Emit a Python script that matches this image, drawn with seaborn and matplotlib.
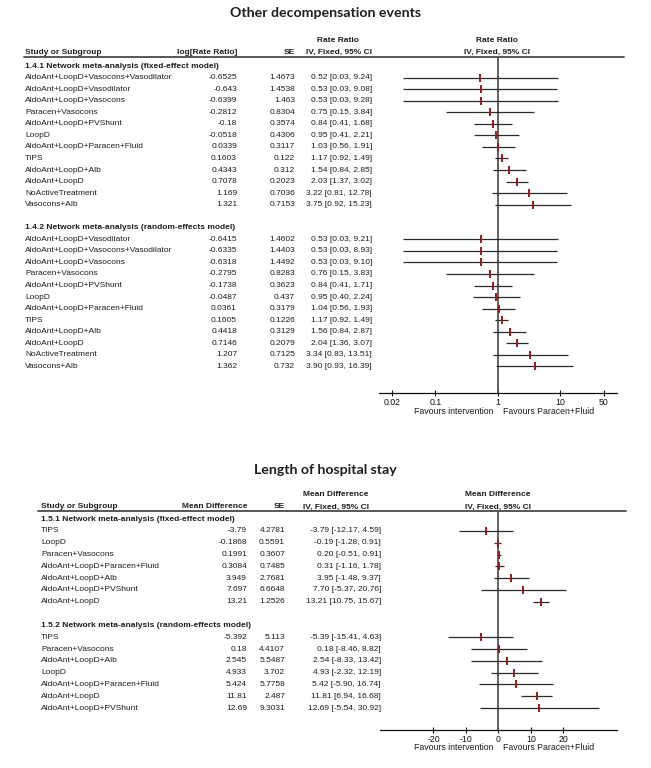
import numpy as np
import pandas as pd
import matplotlib
matplotlib.use("Agg")
import matplotlib.pyplot as plt
import seaborn as sns
from matplotlib.transforms import blended_transform_factory
from matplotlib.lines import Line2D
from matplotlib.ticker import NullLocator

# ------------------------------------------------------------------ data
# Panel 1: Other decompensation events (Rate Ratio)
rr_fixed_labels = ["AldoAnt+LoopD+Vasocons+Vasodilator", "AldoAnt+LoopD+Vasodilator",
                   "AldoAnt+LoopD+Vasocons", "Paracen+Vasocons", "AldoAnt+LoopD+PVShunt",
                   "LoopD", "AldoAnt+LoopD+Paracen+Fluid", "TIPS", "AldoAnt+LoopD+Alb",
                   "AldoAnt+LoopD", "NoActiveTreatment", "Vasocons+Alb"]
rr_fixed_log = [-0.6525, -0.643, -0.6399, -0.2812, -0.18, -0.0518, 0.0339, 0.1603,
                0.4343, 0.7078, 1.169, 1.321]
rr_fixed_se = [1.4673, 1.4538, 1.463, 0.8304, 0.3574, 0.4306, 0.3117, 0.122, 0.312,
               0.2023, 0.7036, 0.7153]
rr_fixed_est = [0.52, 0.53, 0.53, 0.75, 0.84, 0.95, 1.03, 1.17, 1.54, 2.03, 3.22, 3.75]
rr_fixed_lo = [0.03, 0.03, 0.03, 0.15, 0.41, 0.41, 0.56, 0.92, 0.84, 1.37, 0.81, 0.92]
rr_fixed_hi = [9.24, 9.08, 9.28, 3.84, 1.68, 2.21, 1.91, 1.49, 2.85, 3.02, 12.78, 15.23]

rr_random_labels = ["AldoAnt+LoopD+Vasodilator", "AldoAnt+LoopD+Vasocons+Vasodilator",
                    "AldoAnt+LoopD+Vasocons", "Paracen+Vasocons", "AldoAnt+LoopD+PVShunt",
                    "LoopD", "AldoAnt+LoopD+Paracen+Fluid", "TIPS", "AldoAnt+LoopD+Alb",
                    "AldoAnt+LoopD", "NoActiveTreatment", "Vasocons+Alb"]
rr_random_log = [-0.6415, -0.6335, -0.6318, -0.2795, -0.1738, -0.0487, 0.0361, 0.1605,
                 0.4418, 0.7146, 1.207, 1.362]
rr_random_se = [1.4602, 1.4403, 1.4492, 0.8283, 0.3623, 0.437, 0.3179, 0.1226, 0.3129,
                0.2079, 0.7125, 0.732]
rr_random_est = [0.53, 0.53, 0.53, 0.76, 0.84, 0.95, 1.04, 1.17, 1.56, 2.04, 3.34, 3.90]
rr_random_lo = [0.03, 0.03, 0.03, 0.15, 0.41, 0.40, 0.56, 0.92, 0.84, 1.36, 0.83, 0.93]
rr_random_hi = [9.21, 8.93, 9.10, 3.83, 1.71, 2.24, 1.93, 1.49, 2.87, 3.07, 13.51, 16.39]

rr_ticks = [0.02, 0.1, 1, 10, 50]
rr_tick_labels = ["0.02", "0.1", "1", "10", "50"]

# Panel 2: Length of hospital stay (Mean Difference)
md_fixed_labels = ["TIPS", "LoopD", "Paracen+Vasocons", "AldoAnt+LoopD+Paracen+Fluid",
                   "AldoAnt+LoopD+Alb", "AldoAnt+LoopD+PVShunt", "AldoAnt+LoopD"]
md_fixed_md = [-3.79, -0.1868, 0.1991, 0.3084, 3.949, 7.697, 13.21]
md_fixed_se = [4.2781, 0.5591, 0.3607, 0.7485, 2.7681, 6.6648, 1.2526]
md_fixed_est = [-3.79, -0.19, 0.20, 0.31, 3.95, 7.70, 13.21]
md_fixed_lo = [-12.17, -1.28, -0.51, -1.16, -1.48, -5.37, 10.75]
md_fixed_hi = [4.59, 0.91, 0.91, 1.78, 9.37, 20.76, 15.67]

md_random_labels = ["TIPS", "Paracen+Vasocons", "AldoAnt+LoopD+Alb", "LoopD",
                    "AldoAnt+LoopD+Paracen+Fluid", "AldoAnt+LoopD", "AldoAnt+LoopD+PVShunt"]
md_random_md = [-5.392, 0.18, 2.545, 4.933, 5.424, 11.81, 12.69]
md_random_se = [5.113, 4.4107, 5.5487, 3.702, 5.7758, 2.487, 9.3031]
md_random_est = [-5.39, 0.18, 2.54, 4.93, 5.42, 11.81, 12.69]
md_random_lo = [-15.41, -8.46, -8.33, -2.32, -5.90, 6.94, -5.54]
md_random_hi = [4.63, 8.82, 13.42, 12.19, 16.74, 16.68, 30.92]

md_ticks = [-20, -10, 0, 10, 20]
md_tick_labels = ["-20", "-10", "0", "10", "20"]

# ------------------------------------------------------------------ style
sns.set_theme(style="white")
plt.rcParams["font.family"] = ["Liberation Sans", "DejaVu Sans"]

W, H = 651, 768
fig = plt.figure(figsize=(6.51, 7.68), dpi=100)
fig.patch.set_facecolor("white")

TXT = "#1e1e1e"
PT = "#9a1a1a"
CI = "#2a2a2a"
REF = "#555555"
FS = 6.05
TITLE_FONT = ["Lato", "DejaVu Sans"]


def fx(x):
    return x / W


def fy(y):
    return 1 - y / H


def ftext(x, y, s, ha="left", bold=False, size=FS, **kw):
    fig.text(fx(x), fy(y), s, ha=ha, va="center", fontsize=size,
             fontweight="bold" if bold else "normal", color=TXT, **kw)


def hline_fig(x0, x1, y, color="#4a4a4a", lw=1.3):
    fig.add_artist(Line2D([fx(x0), fx(x1)], [fy(y), fy(y)], transform=fig.transFigure,
                          color=color, lw=lw))


def make_df(labels, c1, c2, est, lo, hi, start):
    return pd.DataFrame({"label": labels, "c1": c1, "c2": c2, "est": est,
                         "lo": lo, "hi": hi,
                         "pos": np.arange(start, start + len(labels))})


def forest(ax, df):
    ax.hlines(df["pos"], df["lo"], df["hi"], color=CI, lw=0.9, zorder=2)
    sns.scatterplot(data=df, x="est", y="pos", marker="|", s=26, color=PT,
                    linewidth=1.4, ax=ax, zorder=3, legend=False)


def table_rows(ax, df, xl, xc1, xc2, xci):
    tr = blended_transform_factory(fig.transFigure, ax.transData)
    for _, r in df.iterrows():
        y = r["pos"]
        kw = dict(transform=tr, va="center", fontsize=FS, color=TXT, clip_on=False)
        ax.text(fx(xl), y, r["label"], ha="left", **kw)
        ax.text(fx(xc1), y, str(r["c1"]), ha="right", **kw)
        ax.text(fx(xc2), y, str(r["c2"]), ha="right", **kw)
        ax.text(fx(xci), y, f"{r['est']:.2f} [{r['lo']:.2f}, {r['hi']:.2f}]", ha="right", **kw)


def section_header(ax, x, y, s):
    tr = blended_transform_factory(fig.transFigure, ax.transData)
    ax.text(fx(x), y, s, transform=tr, ha="left", va="center", fontsize=FS,
            fontweight="bold", color=TXT, clip_on=False)


def style_axis(ax):
    for sp in ["top", "left", "right"]:
        ax.spines[sp].set_visible(False)
    ax.spines["bottom"].set_color("#111111")
    ax.spines["bottom"].set_linewidth(0.9)
    ax.set_facecolor("none")
    ax.set_yticks([])
    ax.set_xlabel("")
    ax.set_ylabel("")
    ax.tick_params(axis="x", direction="inout", length=5, width=0.8, labelsize=6.3,
                   pad=1, colors="#111111", bottom=True)


# ------------------------------------------------------------------ panel 1
ax1 = fig.add_axes([fx(379), fy(393), fx(617) - fx(379), (393 - 57) / H])
df1a = make_df(rr_fixed_labels, rr_fixed_log, rr_fixed_se, rr_fixed_est,
               rr_fixed_lo, rr_fixed_hi, 1)
df1b = make_df(rr_random_labels, rr_random_log, rr_random_se, rr_random_est,
               rr_random_lo, rr_random_hi, 15)
ax1.set_xscale("log")
ax1.axvline(1, color=REF, lw=1.3, zorder=1)
forest(ax1, df1a)
forest(ax1, df1b)
ax1.set_xlim(10 ** -1.905, 10 ** 1.915)
ax1.set_ylim(28.3, -0.78)
ax1.set_xticks(rr_ticks)
ax1.set_xticklabels(rr_tick_labels)
ax1.xaxis.set_minor_locator(NullLocator())
style_axis(ax1)

table_rows(ax1, df1a, 25, 237, 295, 372)
table_rows(ax1, df1b, 25, 237, 295, 372)
section_header(ax1, 25, 0, "1.4.1 Network meta-analysis (fixed-effect model)")
section_header(ax1, 25, 14, "1.4.2 Network meta-analysis (random-effects model)")

fig.text(fx(325), fy(13), "Other decompensation events", ha="center", va="center",
         fontsize=10.2, fontweight="bold", color=TXT, family=TITLE_FONT)
ftext(338, 40, "Rate Ratio", ha="center", bold=True)
ftext(497, 40, "Rate Ratio", ha="center", bold=True)
ftext(25, 52, "Study or Subgroup", bold=True)
ftext(237, 52, "log[Rate Ratio]", ha="right", bold=True)
ftext(295, 52, "SE", ha="right", bold=True)
ftext(372, 52, "IV, Fixed, 95% CI", ha="right", bold=True)
ftext(497, 52, "IV, Fixed, 95% CI", ha="center", bold=True)
hline_fig(24, 624, 57)
ftext(494, 411, "Favours intervention", ha="right", size=6.35)
ftext(503, 411, "Favours Paracen+Fluid", ha="left", size=6.35)

# ------------------------------------------------------------------ panel 2
ax2 = fig.add_axes([fx(380), fy(730), fx(617) - fx(380), (730 - 511) / H])
df2a = make_df(md_fixed_labels, md_fixed_md, md_fixed_se, md_fixed_est,
               md_fixed_lo, md_fixed_hi, 1)
df2b = make_df(md_random_labels, md_random_md, md_random_se, md_random_est,
               md_random_lo, md_random_hi, 10)
ax2.axvline(0, color=REF, lw=1.3, zorder=1)
forest(ax2, df2a)
forest(ax2, df2b)
ax2.set_xlim(-36.5, 36.6)
ax2.set_ylim(17.86, -0.69)
ax2.set_xticks(md_ticks)
ax2.set_xticklabels(md_tick_labels)
style_axis(ax2)

table_rows(ax2, df2a, 41, 247, 285, 381)
table_rows(ax2, df2b, 41, 247, 285, 381)
section_header(ax2, 41, 0, "1.5.1 Network meta-analysis (fixed-effect model)")
section_header(ax2, 41, 9, "1.5.2 Network meta-analysis (random-effects model)")

fig.text(fx(325), fy(470), "Length of hospital stay", ha="center", va="center",
         fontsize=10.2, fontweight="bold", color=TXT, family=TITLE_FONT)
ftext(336, 495, "Mean Difference", ha="center", bold=True)
ftext(498, 495, "Mean Difference", ha="center", bold=True)
ftext(41, 507, "Study or Subgroup", bold=True)
ftext(247, 507, "Mean Difference", ha="right", bold=True)
ftext(285, 507, "SE", ha="right", bold=True)
ftext(336, 507, "IV, Fixed, 95% CI", ha="center", bold=True)
ftext(498, 507, "IV, Fixed, 95% CI", ha="center", bold=True)
hline_fig(38, 626, 511)
ftext(494, 748, "Favours intervention", ha="right", size=6.35)
ftext(503, 748, "Favours Paracen+Fluid", ha="left", size=6.35)

fig.savefig("out.png", dpi=100, facecolor="white")
